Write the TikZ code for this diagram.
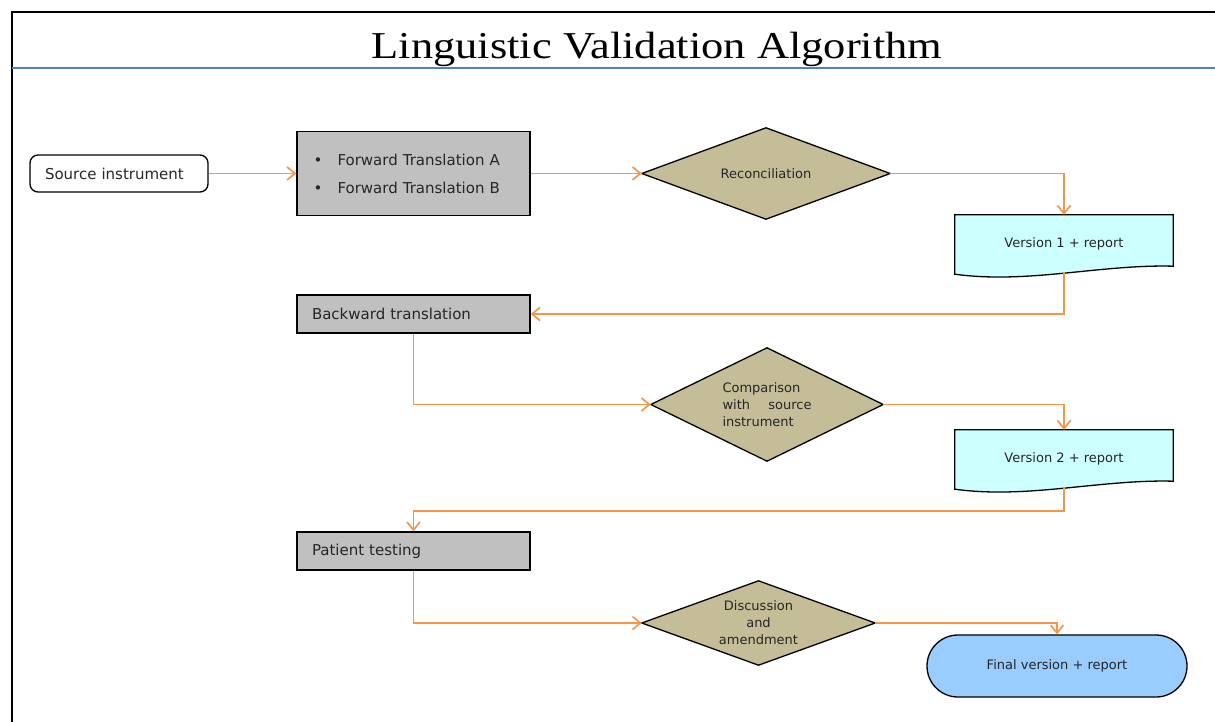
\documentclass[tikz,border=0pt]{standalone}
\usepackage{fontspec}
\setmainfont{DejaVu Sans}
\newfontfamily\titlefont{Liberation Serif}
\usetikzlibrary{arrows.meta,calc,backgrounds}
\definecolor{flowc}{HTML}{F79646}
\definecolor{rulec}{HTML}{4F81BD}
\definecolor{procc}{HTML}{C0C0C0}
\definecolor{decc}{HTML}{C4BD97}
\definecolor{docc}{HTML}{CCFFFF}
\definecolor{endc}{HTML}{99CCFF}
\begin{document}
\begin{tikzpicture}[x=1pt,y=-1pt,
  lbl/.style={font=\fontsize{13}{17}\selectfont, text=black!85},
  proc/.style={draw=black, line width=1.3pt, fill=procc, minimum width=233pt,
    inner sep=0pt, font=\fontsize{15}{28}\selectfont, text=black!85},
  startbox/.style={draw=black, line width=1.3pt, rounded corners=8pt, minimum width=178pt,
    minimum height=37pt, font=\fontsize{15}{18}\selectfont, text=black!85},
  decarea/.style={lbl, minimum width=#1, inner sep=0pt},
  docarea/.style={lbl, minimum width=218pt, minimum height=57pt, inner sep=0pt},
  shapeline/.style={draw=black, line width=1.3pt},
  endbox/.style={lbl, draw=black, line width=1.3pt, fill=endc, rounded corners=31pt,
    minimum width=260pt, minimum height=62pt, inner sep=0pt},
  flow/.style={draw=flowc, line width=1.7pt, -{Straight Barb[length=8pt,width=13pt]}}]

\useasboundingbox (0,0) rectangle (1215,722);

% frame and heading rule
\draw[line width=2pt] (12,722) -- (12,12) -- (1215,12);
\draw[rulec, line width=1.5pt] (12,68) -- (1215,68);
\node[anchor=base] (title) at (657,59)
  {\titlefont\fontsize{38}{40}\selectfont\scalebox{1.17}[1]{Linguistic Validation Algorithm}};

% process steps
\node[startbox, text width=168pt, align=left, inner xsep=5pt] (src) at (119,173.5)
  {\hspace*{10pt}Source instrument};
\node[proc, minimum height=84pt, text width=200pt, align=left, inner xsep=16.5pt] (fwd) at (413.5,173.5)
  {\makebox[24pt][l]{•}Forward Translation A\\\makebox[24pt][l]{•}Forward Translation B};
\node[proc, minimum height=38pt, text width=203pt, align=left, inner xsep=15pt] (bwd) at (413.5,314)
  {Backward translation};
\node[proc, minimum height=38pt, text width=203pt, align=left, inner xsep=15pt] (pat) at (413.5,551)
  {Patient testing};

% decisions
\node[decarea=248pt, minimum height=91pt] (rec) at (766,173.5) {Reconciliation};
\node[decarea=232pt, minimum height=113pt, align=left] (cmp) at (767,404.5)
  {Comparison\\\makebox[89pt][l]{with\hfill source}\\instrument};
\node[decarea=233pt, minimum height=84pt, align=center] (dis) at (758.5,623)
  {Discussion\\and\\amendment};

% documents
\node[docarea] (v1) at (1064,243.5) {Version 1 + report};
\node[docarea] (v2) at (1064,458.5) {Version 2 + report};

% terminal
\node[endbox] (fin) at (1057,666) {Final version + report};

\begin{scope}[on background layer]
  \foreach \d in {rec,cmp,dis}
    \draw[shapeline, fill=decc] (\d.west) -- (\d.north) -- (\d.east) -- (\d.south) -- cycle;
  \foreach \d in {v1,v2}
    \draw[shapeline, fill=docc] ($(\d.south west)+(0,2)$) -- (\d.north west) -- (\d.north east)
      -- ($(\d.south east)+(0,-6)$)
      .. controls ($(\d.south east)+(-73,-8)$) and ($(\d.south west)+(73,12)$)
      .. ($(\d.south west)+(0,2)$) -- cycle;
\end{scope}

% connectors
\draw[flow] (src.east) -- (fwd.west);
\draw[flow] (fwd.east) -- (rec.west);
\draw[flow] (rec.east) -| (v1.north);
\draw[flow] (v1.south) |- (bwd.east);
\draw[flow] (bwd.south) |- (cmp.west);
\draw[flow] (cmp.east) -| (v2.north);
\draw[flow] (v2.south) -- ++(0,24) -| (pat.north);
\draw[flow] (pat.south) |- (dis.west);
\draw[flow] (dis.east) -| (fin.north);
\end{tikzpicture}
\end{document}
